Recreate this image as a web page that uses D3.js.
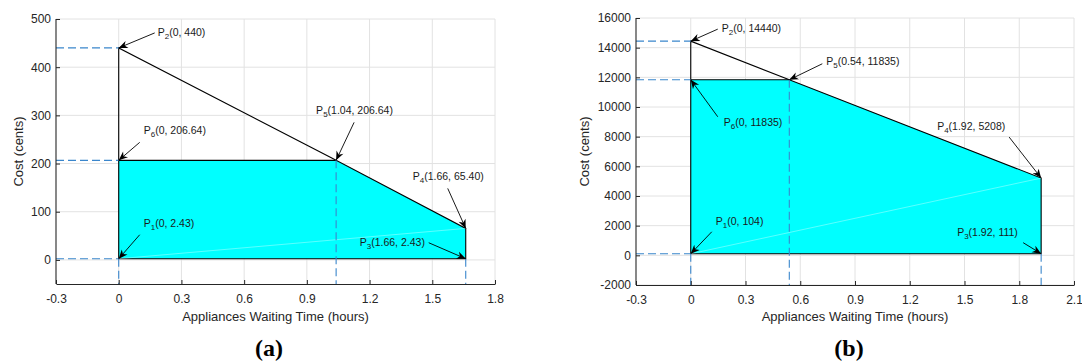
<!DOCTYPE html>
<html>
<head>
<meta charset="utf-8">
<script src="https://cdn.jsdelivr.net/npm/d3@7"></script>
<style>
  body { margin: 0; background: #fff; }
  svg { display: block; font-family: "Liberation Sans", Arial, sans-serif; }
</style>
</head>
<body>
<div id="chart"></div>
<script>
// ---- panel (a) ----
const namesA = ["1", "2", "3", "4", "5", "6"];
const xA = [0, 0, 1.66, 1.66, 1.04, 0];
const yA = [2.43, 440, 2.43, 65.40, 206.64, 206.64];
const textA = ["(0, 2.43)", "(0, 440)", "(1.66, 2.43)", "(1.66, 65.40)", "(1.04, 206.64)", "(0, 206.64)"];
const xTicksA = [-0.3, 0, 0.3, 0.6, 0.9, 1.2, 1.5, 1.8];
const yTicksA = [0, 100, 200, 300, 400, 500];
const yMinA = -50;

// ---- panel (b) ----
const namesB = ["1", "2", "3", "4", "5", "6"];
const xB = [0, 0, 1.92, 1.92, 0.54, 0];
const yB = [104, 14440, 111, 5208, 11835, 11835];
const textB = ["(0, 104)", "(0, 14440)", "(1.92, 111)", "(1.92, 5208)", "(0.54, 11835)", "(0, 11835)"];
const xTicksB = [-0.3, 0, 0.3, 0.6, 0.9, 1.2, 1.5, 1.8, 2.1];
const yTicksB = [-2000, 0, 2000, 4000, 6000, 8000, 10000, 12000, 14000, 16000];
const yMinB = -2000;

// polygon P1 -> P3 -> P4 -> P5 -> P6, and the upper triangle edges P6-P2-P5
const fillOrder = [0, 2, 3, 4, 5];
const edgeOrder = [5, 1, 4];

// label placement: [text dx, text dy, arrow tail dx, arrow tail dy] in px from the point
const offsetsA = [[25, -35, 21, -24], [39, -16, 36, -15], [-106, -16, -37, -16], [-53, -52, -18, -40], [-20, -50, 18, -38], [25, -30, 21, -18]];
const offsetsB = [[25, -32, 21, -22], [31, -13, 27, -12], [-84, -21, -18, -11], [-104, -52, -32, -41], [37, -18, 33, -16], [33, 43, 27, 37]];

const width = 1082, height = 363;
const axisColor = "#262626";
const gridColor = "#e2e2e2";
const dashColor = "#3a86cc";

const svg = d3.select("#chart").append("svg").attr("width", width).attr("height", height);

svg.append("defs").append("marker")
  .attr("id", "head")
  .attr("viewBox", "-10 -5 11 10")
  .attr("refX", 0).attr("refY", 0)
  .attr("markerWidth", 11).attr("markerHeight", 10)
  .attr("markerUnits", "userSpaceOnUse")
  .attr("orient", "auto")
  .append("path")
  .attr("d", "M0,0L-9,-3.8L-6.3,0L-9,3.8Z")
  .attr("fill", "#000");

function drawPanel(p) {
  const x = d3.scaleLinear().domain([p.xTicks[0], p.xTicks[p.xTicks.length - 1]]).range(p.xRange);
  const y = d3.scaleLinear().domain([p.yMin, p.yTicks[p.yTicks.length - 1]]).range(p.yRange);
  const g = svg.append("g");
  const px = p.xs.map(x), py = p.ys.map(y);

  // grid
  g.append("g").selectAll("line").data(p.xTicks.slice(1)).join("line")
    .attr("x1", d => x(d)).attr("x2", d => x(d))
    .attr("y1", p.yRange[0]).attr("y2", p.yRange[1])
    .attr("stroke", gridColor);
  g.append("g").selectAll("line").data(p.yTicks).join("line")
    .attr("x1", p.xRange[0]).attr("x2", p.xRange[1])
    .attr("y1", d => y(d)).attr("y2", d => y(d))
    .attr("stroke", gridColor);

  // feasible region
  g.append("path")
    .attr("d", d3.line()(p.fill.map(i => [px[i], py[i]])) + "Z")
    .attr("fill", "#00ffff").attr("stroke", "#000").attr("stroke-width", 1.1);
  g.append("line")
    .attr("x1", px[0]).attr("y1", py[0]).attr("x2", px[3]).attr("y2", py[3])
    .attr("stroke", "#fff").attr("stroke-opacity", 0.6).attr("stroke-width", 0.6);
  g.append("path")
    .attr("d", d3.line()(p.edges.map(i => [px[i], py[i]])))
    .attr("fill", "none").attr("stroke", "#000").attr("stroke-width", 1.1);

  // dashed guides
  const guides = [];
  [0, 1, 5].forEach(i => guides.push([p.xRange[0], py[i], px[i], py[i]]));
  [0, 4, 2].forEach(i => guides.push([px[i], py[i], px[i], p.yRange[0]]));
  g.append("g").selectAll("line").data(guides).join("line")
    .attr("x1", d => d[0]).attr("y1", d => d[1]).attr("x2", d => d[2]).attr("y2", d => d[3])
    .attr("stroke", dashColor).attr("stroke-width", 1.1).attr("stroke-dasharray", "8,4");

  // axes
  const xAxis = g.append("g").attr("transform", `translate(0,${p.yRange[0]})`)
    .call(d3.axisBottom(x).tickValues(p.xTicks).tickFormat(d => String(d)).tickSizeInner(-4).tickSizeOuter(0).tickPadding(10));
  const yAxis = g.append("g").attr("transform", `translate(${p.xRange[0]},0)`)
    .call(d3.axisLeft(y).tickValues(p.yTicks).tickFormat(d => String(d)).tickSizeInner(-4).tickSizeOuter(0).tickPadding(5));
  [xAxis, yAxis].forEach(a => {
    a.attr("color", axisColor).attr("font-family", null).attr("font-size", 12);
    a.select(".domain").attr("stroke-width", 1.1);
  });
  yAxis.select(".domain").attr("d", `M0,${p.yRange[0]}V${p.yRange[1]}`);

  // axis titles
  g.append("text")
    .attr("x", (p.xRange[0] + p.xRange[1]) / 2).attr("y", 321)
    .attr("text-anchor", "middle").attr("font-size", 13).attr("fill", axisColor)
    .text("Appliances Waiting Time (hours)");
  g.append("text")
    .attr("transform", `translate(${p.yLabelX},${(p.yRange[0] + p.yRange[1]) / 2}) rotate(-90)`)
    .attr("text-anchor", "middle").attr("font-size", 13).attr("fill", axisColor)
    .text("Cost (cents)");

  // point annotations
  p.names.forEach((name, i) => {
    const o = p.offsets[i];
    g.append("line")
      .attr("x1", px[i] + o[2]).attr("y1", py[i] + o[3])
      .attr("x2", px[i]).attr("y2", py[i])
      .attr("stroke", "#000").attr("stroke-width", 0.9)
      .attr("marker-end", "url(#head)");
    const t = g.append("text")
      .attr("x", px[i] + o[0]).attr("y", py[i] + o[1] + 3.7)
      .attr("font-size", 10.5).attr("fill", "#1a1a1a");
    t.append("tspan").text("P");
    t.append("tspan").attr("font-size", 8).attr("dy", 3).text(name);
    t.append("tspan").attr("dy", -3).text(p.texts[i]);
  });

  // sub-caption
  g.append("text")
    .attr("x", p.captionX).attr("y", 356)
    .attr("text-anchor", "middle")
    .attr("font-family", "'Liberation Serif', 'DejaVu Serif', serif")
    .attr("font-weight", "bold").attr("font-size", 24).attr("fill", "#000")
    .text(p.caption);
}

drawPanel({
  names: namesA, xs: xA, ys: yA, texts: textA, xTicks: xTicksA, yTicks: yTicksA, yMin: yMinA,
  fill: fillOrder, edges: edgeOrder, offsets: offsetsA,
  xRange: [56, 495], yRange: [284, 19], yLabelX: 23, caption: "(a)", captionX: 269
});
drawPanel({
  names: namesB, xs: xB, ys: yB, texts: textB, xTicks: xTicksB, yTicks: yTicksB, yMin: yMinB,
  fill: fillOrder, edges: edgeOrder, offsets: offsetsB,
  xRange: [636, 1074], yRange: [285, 18], yLabelX: 589, caption: "(b)", captionX: 849
});
</script>
</body>
</html>
